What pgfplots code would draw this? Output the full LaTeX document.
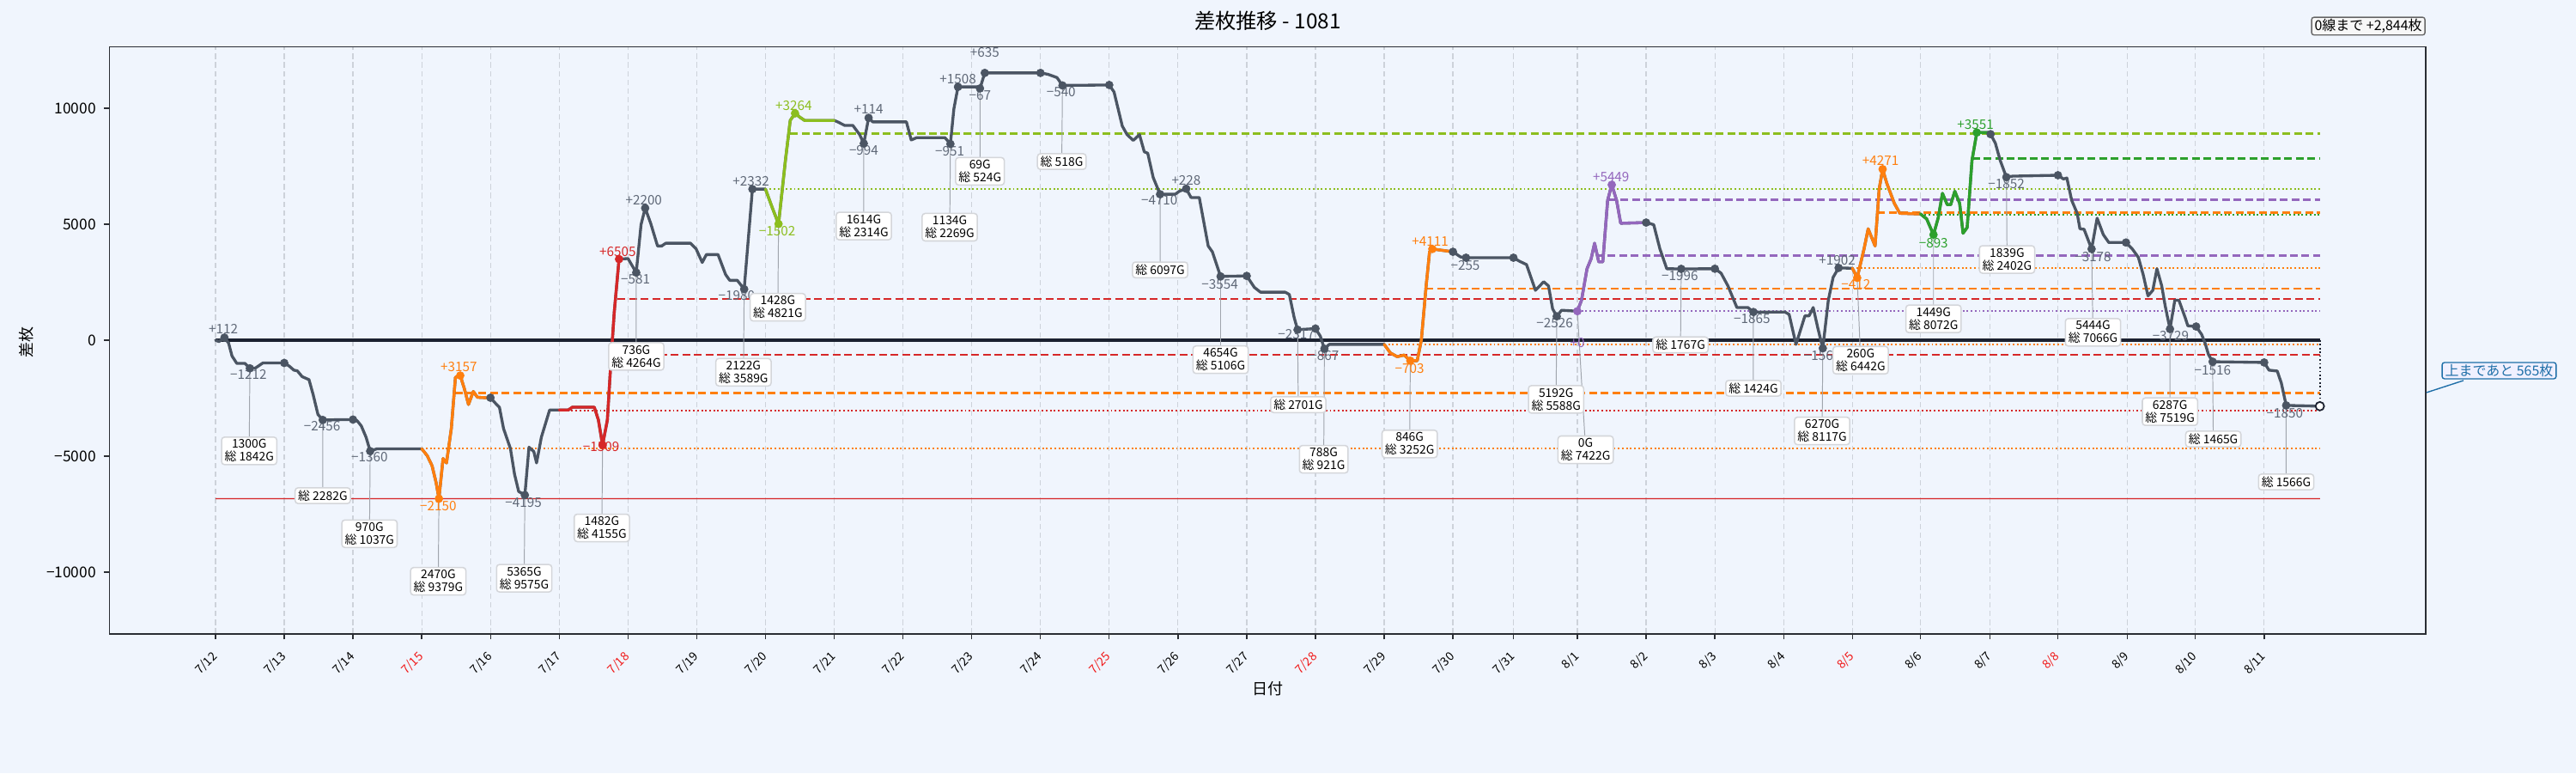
\documentclass[border=0pt]{standalone}
\usepackage{fontspec}
\setmainfont{Noto Sans CJK JP}
\usepackage{pgfplots}
\pgfplotsset{compat=1.18}
\definecolor{bg}{RGB}{240,245,253}
\definecolor{ln}{HTML}{4B5563}
\definecolor{lab}{HTML}{5F6877}
\definecolor{tor}{HTML}{FF7F0E}
\definecolor{trd}{HTML}{D62728}
\definecolor{tyg}{HTML}{8CBE1E}
\definecolor{tpu}{HTML}{9467BD}
\definecolor{tgr}{HTML}{2CA02C}
\definecolor{framec}{HTML}{2A2D33}
\definecolor{gridc}{HTML}{CDD2DA}
\definecolor{conn}{HTML}{A0A5AD}
\definecolor{boxb}{HTML}{D4D6DA}
\definecolor{zero}{HTML}{1B2130}
\definecolor{callb}{HTML}{1F6FA8}
\definecolor{tred}{HTML}{F01818}
\tikzset{
 lbl/.style={font=\fontsize{11}{11}\selectfont, inner sep=0pt, anchor=center},
 gbox/.style={draw=boxb, fill=white, rounded corners=2.5pt, line width=1.1pt, inner xsep=2.5pt, inner ysep=2pt, align=center, font=\fontsize{10}{10.8}\selectfont},
}
\pgfplotsset{
 refdash/.style={line width=1.8pt, dash pattern=on 6.5pt off 3.2pt},
 refdot/.style={line width=1.4pt, dash pattern=on 1.4pt off 2pt},
 seg/.style={line width=2.4pt, line join=round, line cap=round},
}
\begin{document}
\begin{tikzpicture}
\path[use as bounding box] (0,0) rectangle (2160pt,648pt);
\fill[bg] (0,0) rectangle (2160pt,648pt);
\begin{axis}[
  at={(91.87pt,116.86pt)}, anchor=south west,
  scale only axis, width=1942.1pt, height=492.0pt,
  xmin=-1.541, xmax=32.15, ymin=-12650, ymax=12650,
  axis background/.style={fill=bg},
  axis line style={draw=framec, line width=1.2pt},
  clip=false,
  scaled y ticks=false,
  tick align=outside, major tick length=4.8pt,
  tick style={line width=1pt, color=framec},
  xtick pos=bottom, ytick pos=left,
  xtick={0,1,2,3,4,5,6,7,8,9,10,11,12,13,14,15,16,17,18,18.88,19.81,20.81,21.81,22.81,23.81,24.80,25.81,26.80,27.81,28.80,29.80},
  xticklabels={7/12,7/13,7/14,\textcolor{tred}{7/15},7/16,7/17,\textcolor{tred}{7/18},7/19,7/20,7/21,7/22,7/23,7/24,\textcolor{tred}{7/25},7/26,7/27,\textcolor{tred}{7/28},7/29,7/30,7/31,8/1,8/2,8/3,8/4,\textcolor{tred}{8/5},8/6,8/7,\textcolor{tred}{8/8},8/9,8/10,8/11},
  xticklabel style={font=\fontsize{10}{10}\selectfont, xshift=0.5pt, yshift=-12pt, rotate=45, anchor=east, inner sep=1pt},
  ytick={-10000,-5000,0,5000,10000},
  yticklabels={−10000,−5000,0,5000,10000},
  yticklabel style={font=\fontsize{12.5}{12.5}\selectfont, xshift=-3pt},
  xmajorgrids=true,
  major grid style={color=gridc, line width=0.9pt, dash pattern=on 4.5pt off 2.8pt},
  title={差枚推移 - 1081},
  title style={at={(axis description cs:0.5,1.0313)}, anchor=center, font=\fontsize{17.5}{17.5}\selectfont},
  xlabel={日付},
  xlabel style={at={(axis description cs:0.5,-0.0941)}, anchor=center, font=\fontsize{13}{13}\selectfont},
  ylabel={差枚},
  ylabel style={at={(axis description cs:-0.0358,0.497)}, anchor=center, font=\fontsize{13}{13}\selectfont},
]
% minimum line
\addplot[trd, opacity=0.15, line width=2.6pt] coordinates {(0,-6830) (30.61,-6830)};
\addplot[trd, line width=0.9pt] coordinates {(0,-6830) (30.61,-6830)};
% reference lines
\addplot[tor, refdot] coordinates {(3.00,-4680) (30.61,-4680)};
\addplot[tor, refdash] coordinates {(3.49,-2279) (30.61,-2279)};
\addplot[trd, refdot] coordinates {(5.00,-3030) (30.61,-3030)};
\addplot[trd, refdash] coordinates {(5.78,-630) (30.61,-630)};
\addplot[trd, refdash] coordinates {(5.85,1770) (30.61,1770)};
\addplot[tyg, refdot] coordinates {(8.00,6512) (30.61,6512)};
\addplot[tyg, refdash] coordinates {(8.36,8912) (30.61,8912)};
\addplot[tor, refdot] coordinates {(17.00,-180) (30.61,-180)};
\addplot[tor, refdash] coordinates {(17.60,2220) (30.61,2220)};
\addplot[tpu, refdot] coordinates {(19.81,1250) (30.61,1250)};
\addplot[tpu, refdash] coordinates {(20.08,3650) (30.61,3650)};
\addplot[tpu, refdash] coordinates {(20.27,6050) (30.61,6050)};
\addplot[tor, refdot] coordinates {(23.81,3100) (30.61,3100)};
\addplot[tor, refdash] coordinates {(24.17,5500) (30.61,5500)};
\addplot[tgr, refdot] coordinates {(24.80,5400) (30.61,5400)};
\addplot[tgr, refdash] coordinates {(25.55,7840) (30.61,7840)};
% zero line
\addplot[zero, line width=2.3pt] coordinates {(0,0) (30.61,0)};
\addplot[zero, line width=1.2pt, dash pattern=on 1.2pt off 2pt] coordinates {(30.61,0) (30.61,-2844)};
% connectors
\addplot[conn, line width=0.7pt, empty line=jump] table {
0.50 -1212
0.49 -4770

1.56 -3436
1.56 -6700

2.25 -4780
2.24 -8340

3.25 -6830
3.24 -10390

4.50 -6675
4.49 -10260

5.63 -4519
5.62 -8090

6.12 2914
6.12 -700

7.69 2200
7.68 -1380

8.19 5010
8.18 1420

9.43 8476
9.43 4920

10.69 8459
10.68 4870

11.12 10851
11.12 7280

12.32 10980
12.31 7700

13.74 6290
13.74 3030

14.62 2750
14.62 -840

15.74 453
15.75 -2780

16.13 -367
16.12 -5130

17.38 -883
17.37 -4470

19.51 1029
19.50 -2550

19.81 1250
19.93 -4720

21.32 3074
21.31 -200

22.37 1215
22.37 -2070

23.38 -348
23.37 -3910

23.88 2688
23.93 -860

24.99 4547
24.99 920

26.05 7028
26.06 3480

27.29 3932
27.31 340

28.43 481
28.43 -3080

29.05 -926
29.06 -4260

30.12 -2810
30.12 -6110
};
% main line
\addplot[ln, seg] coordinates {
(0,0) (0.05,-60) (0.13,112) (0.19,-120) (0.24,-680) (0.31,-1000) (0.43,-1000) (0.50,-1212) (0.58,-1200) (0.69,-980) (1.00,-980) (1.07,-1110) (1.14,-1290) (1.19,-1320) (1.26,-1570) (1.36,-1700) (1.42,-2340) (1.49,-3200) (1.56,-3436) (2.00,-3420) (2.06,-3470) (2.12,-3690) (2.19,-4180) (2.25,-4780) (2.35,-4680) (3.00,-4680)
(3.08,-4980) (3.15,-5410) (3.21,-6150) (3.25,-6830) (3.31,-5100) (3.36,-5290) (3.43,-3810) (3.49,-1600) (3.56,-1523) (3.62,-2090) (3.68,-2770) (3.75,-2210) (3.81,-2460) (3.94,-2480) (4.00,-2480)
(4.07,-2710) (4.13,-2890) (4.19,-3810) (4.29,-4670) (4.35,-5780) (4.41,-6520) (4.50,-6675) (4.56,-4610) (4.63,-4800) (4.67,-5290) (4.74,-4180) (4.86,-3010) (5.00,-3010)
(5.13,-3010) (5.19,-2890) (5.51,-2890) (5.57,-3440) (5.63,-4519) (5.70,-3440) (5.75,-1000) (5.80,1200) (5.87,3495)
(6.00,3520) (6.12,2914) (6.19,4980) (6.25,5695) (6.33,5040) (6.43,4060) (6.49,4060) (6.55,4180) (6.91,4180) (6.99,3940) (7.08,3350) (7.14,3690) (7.31,3690) (7.42,2830) (7.48,2580) (7.59,2580) (7.69,2200) (7.81,6512) (8.00,6512)
(8.09,5780) (8.19,5010) (8.29,7750) (8.36,9470) (8.43,9776) (8.51,9590) (8.57,9470) (9.00,9470)
(9.05,9410) (9.15,9260) (9.27,9260) (9.37,8860) (9.43,8476) (9.50,9584) (9.56,9410) (10.05,9410) (10.12,8630) (10.20,8730) (10.61,8730) (10.69,8459) (10.74,9960) (10.80,10918) (11.09,10918) (11.12,10851) (11.19,11520) (12.00,11520) (12.11,11460) (12.24,11320) (12.32,10980) (13.00,11000) (13.07,10700) (13.19,9230) (13.26,8860) (13.35,8610) (13.44,8860) (13.51,8120) (13.56,8060) (13.64,7010) (13.74,6290) (13.96,6290) (14.02,6420) (14.12,6530) (14.19,6150) (14.31,6150) (14.44,4060) (14.50,3810) (14.62,2750) (15.00,2770) (15.11,2280) (15.20,2070) (15.56,2070) (15.62,1970) (15.69,980) (15.74,453) (16.00,500) (16.07,180) (16.13,-367) (16.20,-180) (17.00,-180)
(17.09,-550) (17.19,-710) (17.29,-640) (17.38,-883) (17.48,-883) (17.54,0) (17.61,2340) (17.66,3810) (17.70,3931) (18.00,3810)
(18.11,3590) (18.19,3555) (18.88,3555) (18.97,3400) (19.07,3260) (19.20,2150) (19.32,2520) (19.39,2340) (19.45,1350) (19.51,1029) (19.58,1290) (19.81,1250)
(19.87,1720) (19.95,3080) (20.01,3510) (20.06,4180) (20.12,3380) (20.18,3380) (20.25,6030) (20.31,6699) (20.38,6030) (20.44,5040) (20.81,5070)
(20.92,4980) (21.01,3940) (21.11,3080) (21.32,3074) (21.81,3080) (21.90,2890) (22.00,2340) (22.13,1410) (22.29,1410) (22.37,1215) (22.83,1215) (22.89,1110) (22.99,-180) (23.12,1050) (23.18,1050) (23.24,1410) (23.31,490) (23.38,-348) (23.46,1720) (23.53,2710) (23.61,3117) (23.81,3100)
(23.88,2688) (23.98,3940) (24.04,4800) (24.14,4060) (24.20,6520) (24.25,7371) (24.31,6770) (24.42,5900) (24.50,5470) (24.80,5440)
(24.89,5230) (24.99,4547) (25.06,5290) (25.12,6330) (25.19,5840) (25.24,5840) (25.30,6420) (25.37,5900) (25.42,4610) (25.48,4860) (25.55,7750) (25.62,8950) (25.78,8950)
(25.82,8880) (25.89,8490) (25.96,7750) (26.05,7028) (26.14,7070) (26.80,7110) (26.88,6950) (26.93,6990) (27.00,6030) (27.08,5470) (27.12,4800) (27.18,4780) (27.29,3932) (27.37,5260) (27.46,4550) (27.54,4210) (27.79,4210) (27.88,3940) (27.97,3570) (28.04,2830) (28.11,1910) (28.18,2150) (28.24,3080) (28.31,2340) (28.36,1480) (28.43,481) (28.50,1720) (28.56,1720) (28.65,980) (28.69,620) (28.81,590) (28.89,250) (28.94,-120) (28.99,-620) (29.05,-926) (29.80,-960) (29.87,-1290) (29.99,-1330) (30.05,-1850) (30.12,-2810) (30.61,-2844)
};
% coloured segments
\addplot[tor, seg] coordinates {(3.00,-4680) (3.08,-4980) (3.15,-5410) (3.21,-6150) (3.25,-6830) (3.31,-5100) (3.36,-5290) (3.43,-3810) (3.49,-1600) (3.56,-1523) (3.62,-2090) (3.68,-2770) (3.75,-2210) (3.81,-2460) (3.94,-2480) (4.00,-2480)};
\addplot[trd, seg] coordinates {(5.00,-3010) (5.13,-3010) (5.19,-2890) (5.51,-2890) (5.57,-3440) (5.63,-4519) (5.70,-3440) (5.75,-1000) (5.80,1200) (5.87,3495)};
\addplot[tyg, seg] coordinates {(8.00,6512) (8.09,5780) (8.19,5010) (8.29,7750) (8.36,9470) (8.43,9776) (8.51,9590) (8.57,9470) (9.00,9470)};
\addplot[tor, seg] coordinates {(17.00,-180) (17.09,-550) (17.19,-710) (17.29,-640) (17.38,-883) (17.48,-883) (17.54,0) (17.61,2340) (17.66,3810) (17.70,3931) (18.00,3810)};
\addplot[tpu, seg] coordinates {(19.81,1250) (19.87,1720) (19.95,3080) (20.01,3510) (20.06,4180) (20.12,3380) (20.18,3380) (20.25,6030) (20.31,6699) (20.38,6030) (20.44,5040) (20.81,5070)};
\addplot[tor, seg] coordinates {(23.81,3100) (23.88,2688) (23.98,3940) (24.04,4800) (24.14,4060) (24.20,6520) (24.25,7371) (24.31,6770) (24.42,5900) (24.50,5470) (24.80,5440)};
\addplot[tgr, seg] coordinates {(24.80,5440) (24.89,5230) (24.99,4547) (25.06,5290) (25.12,6330) (25.19,5840) (25.24,5840) (25.30,6420) (25.37,5900) (25.42,4610) (25.48,4860) (25.55,7750) (25.62,8950) (25.78,8950)};
% dots
\addplot[only marks, mark=*, mark size=3.3pt, mark options={fill=ln, draw=ln}] coordinates {
(0.13,112) (0.50,-1212) (1.00,-980) (1.56,-3436) (2.00,-3420) (2.25,-4780) (4.00,-2480) (4.50,-6675) (6.12,2914) (6.25,5695) (7.69,2200) (7.81,6512) (9.43,8476) (9.50,9584) (10.69,8459) (10.80,10918) (11.12,10851) (11.19,11520) (12.00,11520) (12.32,10980) (13.00,11000) (13.74,6290) (14.12,6530) (14.62,2750) (15.00,2770) (15.74,453) (16.00,500) (16.13,-367) (18.00,3810) (18.19,3555) (18.88,3555) (19.51,1029) (20.81,5070) (21.32,3074) (21.81,3080) (22.37,1215) (23.38,-348) (23.61,3117) (25.82,8880) (26.05,7028) (26.80,7110) (27.29,3932) (27.79,4210) (28.43,481) (28.81,590) (29.05,-926) (29.80,-960) (30.12,-2810)};
\addplot[only marks, mark=*, mark size=3.3pt, mark options={fill=tor, draw=tor}] coordinates {(3.25,-6830) (3.56,-1523) (17.38,-883) (17.70,3931) (23.88,2688) (24.25,7371)};
\addplot[only marks, mark=*, mark size=3.3pt, mark options={fill=trd, draw=trd}] coordinates {(5.63,-4519) (5.87,3495)};
\addplot[only marks, mark=*, mark size=3.3pt, mark options={fill=tyg, draw=tyg}] coordinates {(8.19,5010) (8.43,9776)};
\addplot[only marks, mark=*, mark size=3.3pt, mark options={fill=tpu, draw=tpu}] coordinates {(19.81,1250) (20.31,6699)};
\addplot[only marks, mark=*, mark size=3.3pt, mark options={fill=tgr, draw=tgr}] coordinates {(24.99,4547) (25.62,8950)};
\addplot[only marks, mark=*, mark size=3.6pt, mark options={fill=white, draw=zero, line width=1.3pt}] coordinates {(30.61,-2844)};
% value labels
\node[lbl, text=lab] at (axis cs:0.115,470) {+112};
\node[lbl, text=lab] at (axis cs:0.48,-1480) {−1212};
\node[lbl, text=lab] at (axis cs:1.55,-3690) {−2456};
\node[lbl, text=lab] at (axis cs:2.24,-5040) {−1360};
\node[lbl, text=tor] at (axis cs:3.24,-7130) {−2150};
\node[lbl, text=tor] at (axis cs:3.54,-1140) {+3157};
\node[lbl, text=lab] at (axis cs:4.48,-6990) {−4195};
\node[lbl, text=trd] at (axis cs:5.61,-4580) {−1509};
\node[lbl, text=trd] at (axis cs:5.85,3810) {+6505};
\node[lbl, text=lab] at (axis cs:6.11,2610) {−581};
\node[lbl, text=lab] at (axis cs:6.23,6030) {+2200};
\node[lbl, text=lab] at (axis cs:7.58,1910) {−1980};
\node[lbl, text=lab] at (axis cs:7.79,6860) {+2332};
\node[lbl, text=tyg] at (axis cs:8.17,4700) {−1502};
\node[lbl, text=tyg] at (axis cs:8.41,10090) {+3264};
\node[lbl, text=lab] at (axis cs:9.43,8180) {−994};
\node[lbl, text=lab] at (axis cs:9.50,9960) {+114};
\node[lbl, text=lab] at (axis cs:10.68,8160) {−951};
\node[lbl, text=lab] at (axis cs:10.80,11250) {+1508};
\node[lbl, text=lab] at (axis cs:11.12,10540) {−67};
\node[lbl, text=lab] at (axis cs:11.19,12420) {+635};
\node[lbl, text=lab] at (axis cs:12.30,10700) {−540};
\node[lbl, text=lab] at (axis cs:13.73,6030) {−4710};
\node[lbl, text=lab] at (axis cs:14.12,6890) {+228};
\node[lbl, text=lab] at (axis cs:14.61,2420) {−3554};
\node[lbl, text=lab] at (axis cs:15.72,250) {−2317};
\node[lbl, text=lab] at (axis cs:16.13,-680) {−867};
\node[lbl, text=tor] at (axis cs:17.37,-1230) {−703};
\node[lbl, text=tor] at (axis cs:17.67,4240) {+4111};
\node[lbl, text=lab] at (axis cs:18.18,3220) {−255};
\node[lbl, text=lab] at (axis cs:19.48,740) {−2526};
\node[lbl, text=tpu] at (axis cs:19.81,-120) {+0};
\node[lbl, text=tpu] at (axis cs:20.30,7050) {+5449};
\node[lbl, text=lab] at (axis cs:21.30,2770) {−1996};
\node[lbl, text=lab] at (axis cs:22.35,920) {−1865};
\node[lbl, text=lab] at (axis cs:23.37,-680) {−1563};
\node[lbl, text=lab] at (axis cs:23.59,3440) {+1902};
\node[lbl, text=tor] at (axis cs:23.86,2400) {−412};
\node[lbl, text=tor] at (axis cs:24.22,7750) {+4271};
\node[lbl, text=tgr] at (axis cs:24.99,4180) {−893};
\node[lbl, text=tgr] at (axis cs:25.60,9290) {+3551};
\node[lbl, text=lab] at (axis cs:26.05,6740) {−1852};
\node[lbl, text=lab] at (axis cs:27.31,3600) {−3178};
\node[lbl, text=lab] at (axis cs:28.44,180) {−3729};
\node[lbl, text=lab] at (axis cs:29.05,-1290) {−1516};
\node[lbl, text=lab] at (axis cs:30.10,-3140) {−1850};
% boxes
\node[gbox] at (axis cs:0.49,-4770) {1300G\\総 1842G};
\node[gbox] at (axis cs:1.56,-6700) {総 2282G};
\node[gbox] at (axis cs:2.24,-8340) {970G\\総 1037G};
\node[gbox] at (axis cs:3.24,-10390) {2470G\\総 9379G};
\node[gbox] at (axis cs:4.49,-10260) {5365G\\総 9575G};
\node[gbox] at (axis cs:5.62,-8090) {1482G\\総 4155G};
\node[gbox] at (axis cs:6.12,-700) {736G\\総 4264G};
\node[gbox] at (axis cs:7.68,-1380) {2122G\\総 3589G};
\node[gbox] at (axis cs:8.18,1420) {1428G\\総 4821G};
\node[gbox] at (axis cs:9.43,4920) {1614G\\総 2314G};
\node[gbox] at (axis cs:10.68,4870) {1134G\\総 2269G};
\node[gbox] at (axis cs:11.12,7280) {69G\\総 524G};
\node[gbox] at (axis cs:12.31,7700) {総 518G};
\node[gbox] at (axis cs:13.74,3030) {総 6097G};
\node[gbox] at (axis cs:14.62,-840) {4654G\\総 5106G};
\node[gbox] at (axis cs:15.75,-2780) {総 2701G};
\node[gbox] at (axis cs:16.12,-5130) {788G\\総 921G};
\node[gbox] at (axis cs:17.37,-4470) {846G\\総 3252G};
\node[gbox] at (axis cs:19.50,-2550) {5192G\\総 5588G};
\node[gbox] at (axis cs:19.93,-4720) {0G\\総 7422G};
\node[gbox] at (axis cs:21.31,-200) {総 1767G};
\node[gbox] at (axis cs:22.37,-2070) {総 1424G};
\node[gbox] at (axis cs:23.37,-3910) {6270G\\総 8117G};
\node[gbox] at (axis cs:23.93,-860) {260G\\総 6442G};
\node[gbox] at (axis cs:24.99,920) {1449G\\総 8072G};
\node[gbox] at (axis cs:26.06,3480) {1839G\\総 2402G};
\node[gbox] at (axis cs:27.31,340) {5444G\\総 7066G};
\node[gbox] at (axis cs:28.43,-3080) {6287G\\総 7519G};
\node[gbox] at (axis cs:29.06,-4260) {総 1465G};
\node[gbox] at (axis cs:30.12,-6110) {総 1566G};
% callouts
\node[draw=black!60, fill=white!97!black, rounded corners=2pt, line width=1pt, inner xsep=2.5pt, inner ysep=1.5pt, font=\fontsize{11.5}{11.5}\selectfont] at (axis description cs:0.9752,1.035) {0線まで +2,844枚};
\draw[callb, line width=1pt] (axis description cs:1.0163,0.4313) -- (axis description cs:1.0003,0.4108);
\node[draw=callb, text=callb, fill=white!94!blue, rounded corners=2pt, line width=1pt, inner xsep=2.5pt, inner ysep=1.5pt, font=\fontsize{11.5}{11.5}\selectfont] at (axis description cs:1.0317,0.4481) {上まであと 565枚};
\end{axis}
\end{tikzpicture}
\end{document}
